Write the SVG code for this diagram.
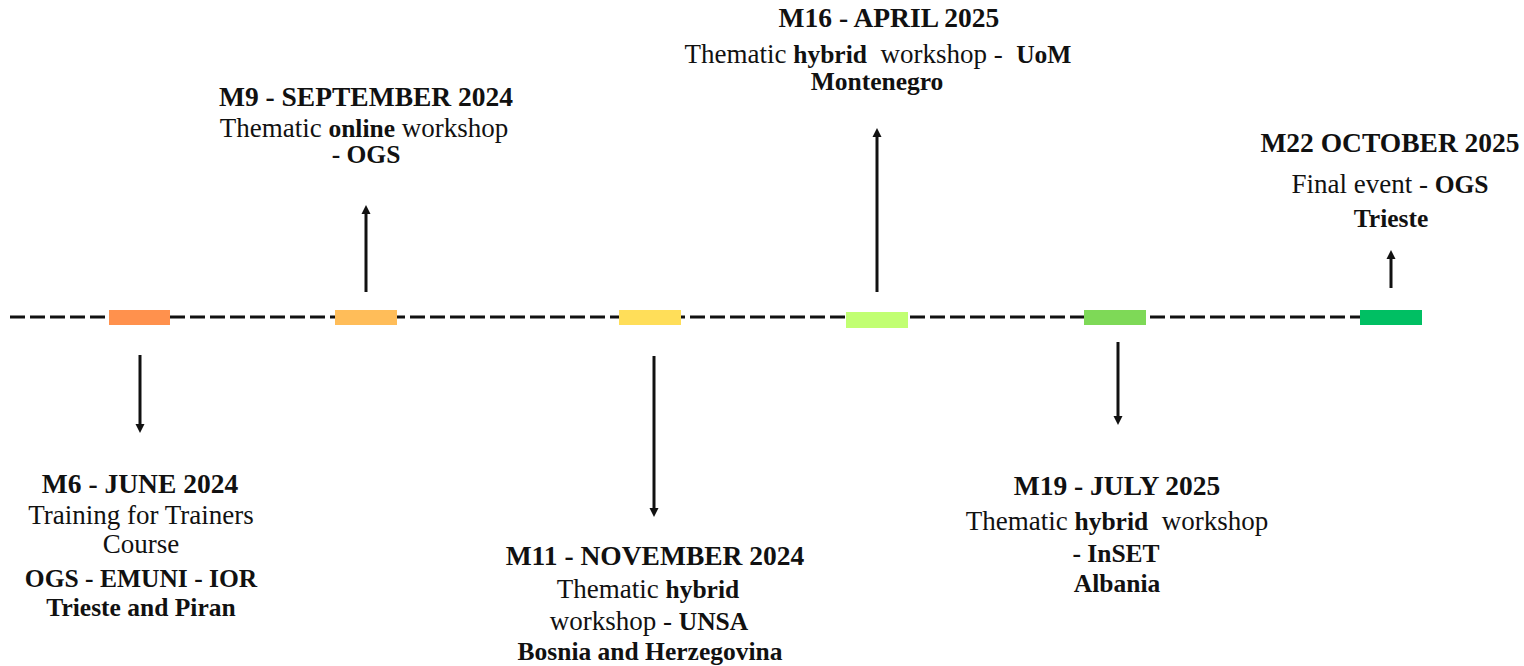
<svg xmlns="http://www.w3.org/2000/svg" width="1524" height="666" viewBox="0 0 1524 666">
<defs>
<style>
text{font-family:"Liberation Serif","Times New Roman",serif;fill:#111;text-anchor:middle}
.t{font-size:27.5px;font-weight:bold}
.b{font-size:27px}
.bb{font-weight:bold;font-size:25.5px}
.arrow{stroke:#111;stroke-width:3;fill:none;marker-end:url(#ah)}
.tl{stroke:#111;stroke-width:3;stroke-dasharray:15 5;fill:none}
</style>
<marker id="ah" viewBox="0 0 10 10" refX="0" refY="5" markerWidth="9" markerHeight="13" markerUnits="userSpaceOnUse" orient="auto">
<path d="M0,0 L10,5 L0,10 z" fill="#111"/>
</marker>
</defs>
<rect width="1524" height="666" fill="#fff"/>
<g id="timeline">
<line class="tl" x1="10" y1="317" x2="1362" y2="317"/>
</g>
<g id="connectors">
<line class="arrow" x1="140" y1="355" x2="140" y2="424"/>
<line class="arrow" x1="366" y1="292" x2="366" y2="214"/>
<line class="arrow" x1="654" y1="356" x2="654" y2="508"/>
<line class="arrow" x1="877" y1="292" x2="877" y2="137"/>
<line class="arrow" x1="1118" y1="342" x2="1118" y2="416"/>
<line class="arrow" x1="1391" y1="288" x2="1391" y2="259"/>
</g>
<g id="m6">
<rect x="109" y="310" width="61" height="15" fill="#ff914d"/>
<text class="t" x="140" y="493">M6 - JUNE 2024</text>
<text class="b" x="141" y="524">Training for Trainers</text>
<text class="b" x="141" y="553">Course</text>
<text class="b bb" x="141" y="587">OGS - EMUNI - IOR</text>
<text class="b bb" x="141" y="616">Trieste and Piran</text>
</g>
<g id="m9">
<rect x="335" y="310" width="62" height="15" fill="#ffbd59"/>
<text class="t" x="366" y="106">M9 - SEPTEMBER 2024</text>
<text class="b" x="364" y="137">Thematic <tspan class="bb">online</tspan> workshop</text>
<text class="b bb" x="366" y="163">- OGS</text>
</g>
<g id="m11">
<rect x="619" y="310" width="62" height="15" fill="#ffde59"/>
<text class="t" x="655" y="565">M11 - NOVEMBER 2024</text>
<text class="b" x="648" y="598">Thematic <tspan class="bb">hybrid</tspan></text>
<text class="b" x="649" y="630">workshop - <tspan class="bb">UNSA</tspan></text>
<text class="b bb" x="650" y="660">Bosnia and Herzegovina</text>
</g>
<g id="m16">
<rect x="846" y="312" width="62" height="16" fill="#c1ff72"/>
<text class="t" x="889" y="27">M16 - APRIL 2025</text>
<text class="b" x="878" y="63" xml:space="preserve">Thematic <tspan class="bb">hybrid</tspan>  workshop -  <tspan class="bb">UoM</tspan></text>
<text class="b bb" x="877" y="90">Montenegro</text>
</g>
<g id="m19">
<rect x="1084" y="310" width="62" height="15" fill="#7ed957"/>
<text class="t" x="1117" y="495">M19 - JULY 2025</text>
<text class="b" x="1117" y="530" xml:space="preserve">Thematic <tspan class="bb">hybrid</tspan>  workshop</text>
<text class="b bb" x="1116" y="562">- InSET</text>
<text class="b bb" x="1117" y="592">Albania</text>
</g>
<g id="m22">
<rect x="1360" y="310" width="62" height="15" fill="#00bf63"/>
<text class="t" x="1390" y="152">M22 OCTOBER 2025</text>
<text class="b" x="1390" y="193">Final event - <tspan class="bb">OGS</tspan></text>
<text class="b bb" x="1391" y="227">Trieste</text>
</g>
</svg>
